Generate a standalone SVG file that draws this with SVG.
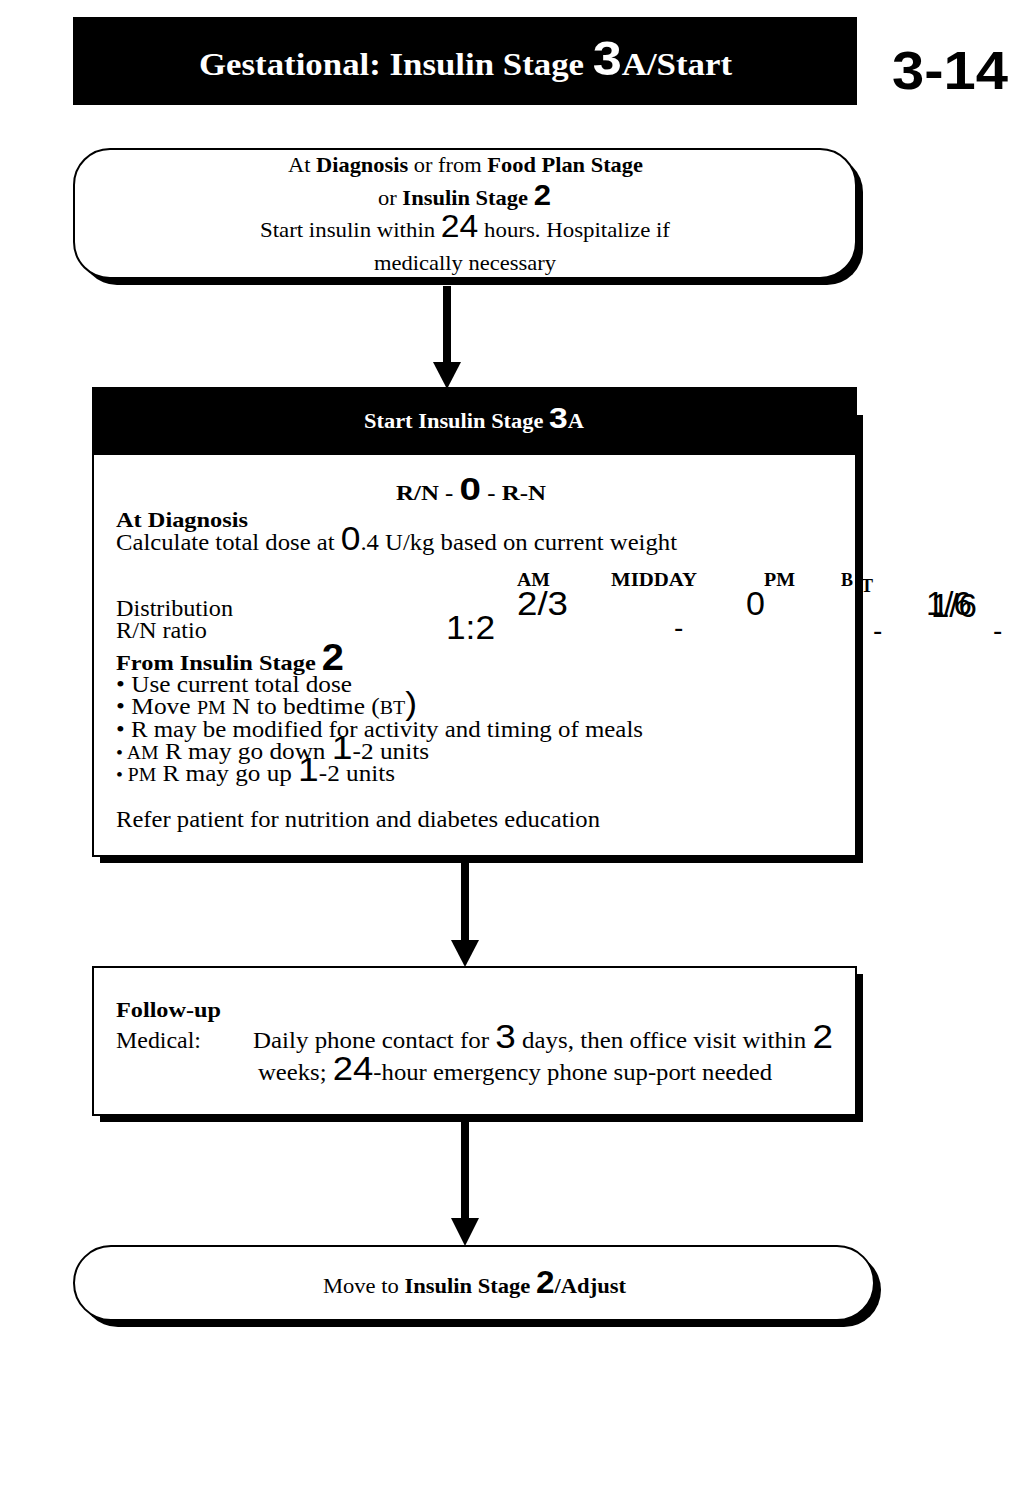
<svg xmlns="http://www.w3.org/2000/svg" width="1023" height="1488" viewBox="0 0 1023 1488">
<style>
.s{font-family:"Liberation Serif","Times New Roman",serif;fill:#000}
.b{font-weight:bold}
.n{font-family:"Liberation Sans",Arial,sans-serif}
.w{fill:#fff}
.box{fill:#fff;stroke:#000;stroke-width:2}
.sh{fill:#000}
.ln{stroke:#000;stroke-width:8;fill:none}
.ar{fill:#000}
</style>
<rect width="1023" height="1488" fill="#fff"/>

<g id="title">
<rect x="73" y="17" width="784" height="88" fill="#000"/>
<text class="s b w" x="199" y="75" font-size="32" textLength="533" lengthAdjust="spacingAndGlyphs">Gestational: Insulin Stage <tspan class="n" font-size="48">3</tspan>A/Start</text>
<text class="n b" x="892" y="89" font-size="54" textLength="116" lengthAdjust="spacingAndGlyphs">3-14</text>
</g>

<g id="connectors">
<path d="M447,286 V364" class="ln"/>
<path class="ar" d="M433,362 L461,362 L447,389 Z"/>
<path d="M465,863 V942" class="ln"/>
<path class="ar" d="M451,940 L479,940 L465,967 Z"/>
<path d="M465,1122 V1220" class="ln"/>
<path class="ar" d="M451,1218 L479,1218 L465,1246 Z"/>
</g>

<g id="start">
<rect class="sh" x="81" y="156" width="782" height="129" rx="36"/>
<rect class="box" x="74" y="149" width="782" height="129" rx="36"/>
<text class="s" x="288" y="172" font-size="21" textLength="355" lengthAdjust="spacingAndGlyphs">At <tspan class="b">Diagnosis</tspan> or from <tspan class="b">Food Plan Stage</tspan></text>
<text class="s" x="378" y="205" font-size="21" textLength="173" lengthAdjust="spacingAndGlyphs">or <tspan class="b">Insulin Stage </tspan><tspan class="n b" font-size="29">2</tspan></text>
<text class="s" x="260" y="237" font-size="21" textLength="410" lengthAdjust="spacingAndGlyphs">Start insulin within <tspan class="n" font-size="31">24</tspan>  hours. Hospitalize if</text>
<text class="s" x="374" y="270" font-size="21" textLength="182" lengthAdjust="spacingAndGlyphs">medically necessary</text>
</g>

<g id="stage3a">
<rect class="sh" x="100" y="415" width="763" height="448"/>
<rect class="box" x="93" y="388" width="763" height="468"/>
<rect x="93" y="388" width="763" height="67" fill="#000"/>
<text class="s b w" x="364" y="428" font-size="20" textLength="220" lengthAdjust="spacingAndGlyphs">Start Insulin Stage <tspan class="n" font-size="30">3</tspan>A</text>
<text class="s b" x="396" y="500" font-size="20" textLength="150" lengthAdjust="spacingAndGlyphs">R/N - <tspan class="n" font-size="31">0</tspan>  - R-N</text>
<text class="s b" x="116" y="527" font-size="22" textLength="132" lengthAdjust="spacingAndGlyphs">At Diagnosis</text>
<text class="s" x="116" y="550" font-size="23" textLength="561" lengthAdjust="spacingAndGlyphs">Calculate total dose at <tspan class="n" font-size="33">0</tspan>.4 U/kg based on current weight</text>
<text class="s b" x="517" y="586" font-size="18" textLength="33" lengthAdjust="spacingAndGlyphs">AM</text>
<text class="s b" x="611" y="586" font-size="18" textLength="86" lengthAdjust="spacingAndGlyphs">MIDDAY</text>
<text class="s b" x="764" y="586" font-size="18" textLength="31" lengthAdjust="spacingAndGlyphs">PM</text>
<text class="s b" x="841" y="586" font-size="18">B</text>
<text class="s b" x="861" y="592" font-size="18">T</text>
<text class="s" x="116" y="616" font-size="23" textLength="117" lengthAdjust="spacingAndGlyphs">Distribution</text>
<text class="s" x="116" y="638" font-size="23" textLength="91" lengthAdjust="spacingAndGlyphs">R/N ratio</text>
<text class="n" x="446" y="639" font-size="34" textLength="49" lengthAdjust="spacingAndGlyphs">1:2</text>
<text class="n" x="517" y="615" font-size="34" textLength="51" lengthAdjust="spacingAndGlyphs">2/3</text>
<text class="n" x="746" y="615" font-size="34">0</text>
<text class="n" x="674" y="637" font-size="28">-</text>
<text class="n" x="873" y="640" font-size="28">-</text>
<text class="n" x="993" y="640" font-size="28">-</text>
<text class="n" x="926" y="615" font-size="33">1/6</text>
<text class="n" x="931" y="617" font-size="33">1/6</text>
<text class="s b" x="116" y="670" font-size="22" textLength="228" lengthAdjust="spacingAndGlyphs">From Insulin Stage <tspan class="n" font-size="36">2</tspan></text>
<text class="s" x="116" y="692" font-size="23" textLength="236" lengthAdjust="spacingAndGlyphs">•  Use current total dose</text>
<text class="s" x="116" y="714" font-size="23" textLength="301" lengthAdjust="spacingAndGlyphs">•  Move <tspan font-size="18">PM</tspan> N to bedtime (<tspan font-size="18">BT</tspan><tspan class="n" font-size="32">)</tspan></text>
<text class="s" x="116" y="737" font-size="23" textLength="527" lengthAdjust="spacingAndGlyphs">•  R may be modified for activity and timing of meals</text>
<text class="s" x="116" y="759" font-size="23" textLength="313" lengthAdjust="spacingAndGlyphs"><tspan font-size="18">• </tspan> <tspan font-size="18">AM</tspan> R may go down  <tspan class="n" font-size="34">1</tspan>-2 units</text>
<text class="s" x="116" y="781" font-size="23" textLength="279" lengthAdjust="spacingAndGlyphs"><tspan font-size="18">• </tspan> <tspan font-size="18">PM</tspan> R may go up  <tspan class="n" font-size="34">1</tspan>-2 units</text>
<text class="s" x="116" y="827" font-size="23" textLength="484" lengthAdjust="spacingAndGlyphs">Refer patient for nutrition and diabetes education</text>
</g>

<g id="followup">
<rect class="sh" x="100" y="974" width="763" height="148"/>
<rect class="box" x="93" y="967" width="763" height="148"/>
<text class="s b" x="116" y="1017" font-size="22" textLength="105" lengthAdjust="spacingAndGlyphs">Follow-up</text>
<text class="s" x="116" y="1048" font-size="23" textLength="85" lengthAdjust="spacingAndGlyphs">Medical:</text>
<text class="s" x="253" y="1048" font-size="23" textLength="580" lengthAdjust="spacingAndGlyphs">Daily phone contact for <tspan class="n" font-size="34">3</tspan> days, then office visit within <tspan class="n" font-size="34">2</tspan></text>
<text class="s" x="258" y="1080" font-size="23" textLength="514" lengthAdjust="spacingAndGlyphs">weeks; <tspan class="n" font-size="34">24</tspan>-hour emergency phone sup-port needed</text>
</g>

<g id="end">
<rect class="sh" x="81" y="1253" width="800" height="74" rx="37"/>
<rect class="box" x="74" y="1246" width="800" height="74" rx="37"/>
<text class="s" x="323" y="1293" font-size="21" textLength="303" lengthAdjust="spacingAndGlyphs">Move to <tspan class="b">Insulin Stage </tspan><tspan class="n b" font-size="31">2</tspan><tspan class="b">/Adjust</tspan></text>
</g>
</svg>
